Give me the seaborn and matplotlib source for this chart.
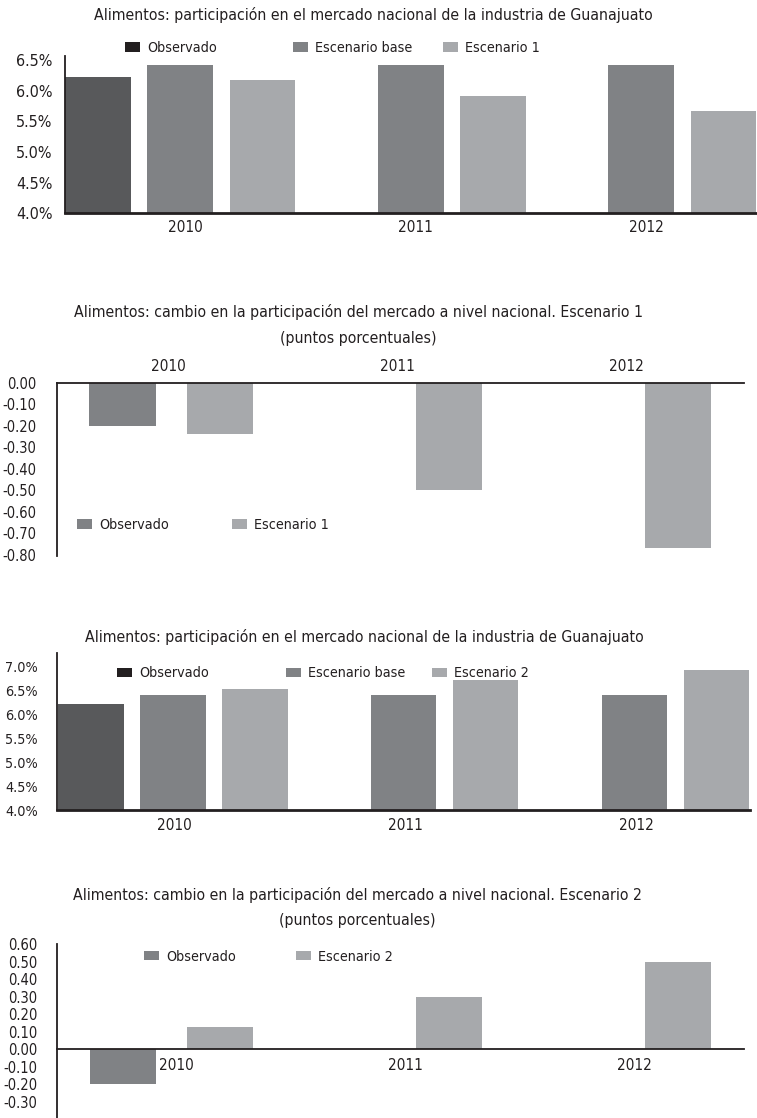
import numpy as np
import pandas as pd
import matplotlib
matplotlib.use('Agg')
import matplotlib.pyplot as plt
import matplotlib.transforms as mtransforms
from matplotlib.patches import Patch
from matplotlib import font_manager
import seaborn as sns

# data (percent / percentage points)
years = ['2010', '2011', '2012']

obs_share_1 = [6.22]                 # Observado only exists for 2010
base_share_1 = [6.42, 6.42, 6.42]
esc1_share = [6.18, 5.92, 5.66]

obs_change_1 = [-0.20]
esc1_change = [-0.24, -0.50, -0.77]

obs_share_2 = [6.22]
base_share_2 = [6.40, 6.40, 6.40]
esc2_share = [6.53, 6.71, 6.91]

obs_change_2 = [-0.20]
esc2_change = [0.13, 0.30, 0.50]

# colours
TXT = '#231f20'
DARK = '#58595b'
MID = '#808285'
LIGHT = '#a7a9ac'

W, H = 757, 1118

sns.set_style('white')
names = {f.name for f in font_manager.fontManager.ttflist}
fam = 'Liberation Sans Narrow' if 'Liberation Sans Narrow' in names else 'DejaVu Sans'
plt.rcParams['font.family'] = [fam, 'DejaVu Sans']
plt.rcParams['font.stretch'] = 'condensed'
plt.rcParams['text.color'] = TXT


def long_df(series):
    rows = []
    for name, vals in series:
        for yr, v in zip(years, vals):
            rows.append((yr, name, v))
    return pd.DataFrame(rows, columns=['year', 'serie', 'value'])


def px_axes(left, right, top, bottom):
    # axes box given in pixel coords of the 757x1118 picture
    return fig.add_axes([left / W, 1 - bottom / H, (right - left) / W, (bottom - top) / H])


def bars(ax, df, hue_order, colors, width, gap):
    sns.barplot(data=df, x='year', y='value', hue='serie', order=years,
                hue_order=hue_order, palette=colors, width=width, gap=gap,
                saturation=1, errorbar=None, linewidth=0, legend=False, ax=ax)
    ax.set_xlabel('')
    ax.set_ylabel('')
    ax.set_xlim(-0.5, 2.5)
    for s in ['top', 'right', 'bottom', 'left']:
        ax.spines[s].set_visible(False)
    ax.spines['left'].set_visible(True)
    ax.spines['left'].set_color(TXT)
    ax.spines['left'].set_linewidth(1.3)
    ax.tick_params(length=0, colors=TXT)


def shift_xlabels(ax, dx):
    off = mtransforms.ScaledTranslation(dx / 100, 0, fig.dpi_scale_trans)
    for lab in ax.get_xticklabels():
        lab.set_transform(lab.get_transform() + off)


def legend_row(labels, colors, xs, y, fs):
    for lab, col, x in zip(labels, colors, xs):
        fig.legend(handles=[Patch(facecolor=col, edgecolor='none')], labels=[lab],
                   loc='center left', bbox_to_anchor=(x / W, 1 - y / H),
                   frameon=False, fontsize=fs, handlelength=1.05, handleheight=0.65,
                   handletextpad=0.5, borderpad=0, borderaxespad=0)


def title(text, x, y, fs):
    fig.text(x / W, 1 - y / H, text, ha='center', va='center', fontsize=fs, color=TXT)


fig = plt.figure(figsize=(W / 100, H / 100), dpi=100)

TFS = 11.3   # titles
LFS = 10.3   # legends
XFS = 11     # year labels

# ---- Chart 1: share, Escenario 1
df1 = long_df([('Observado', obs_share_1), ('Escenario base', base_share_1),
               ('Escenario 1', esc1_share)])
ax1 = px_axes(65, 756.5, 56, 213.3)
bars(ax1, df1, ['Observado', 'Escenario base', 'Escenario 1'], [DARK, MID, LIGHT], 1.07, 0.2)
ax1.set_ylim(4.0, 6.565)
ax1.set_yticks(np.arange(4.0, 6.51, 0.5))
ax1.set_yticklabels(['%.1f%%' % v for v in np.arange(4.0, 6.51, 0.5)], fontsize=11.5)
ax1.spines['bottom'].set_visible(True)
ax1.spines['bottom'].set_color(TXT)
ax1.spines['bottom'].set_linewidth(2)
ax1.tick_params(axis='y', pad=9)
ax1.tick_params(axis='x', labelsize=XFS, pad=5)
shift_xlabels(ax1, 5)
title('Alimentos: participación en el mercado nacional de la industria de Guanajuato', 373, 15, TFS)
legend_row(['Observado', 'Escenario base', 'Escenario 1'], [TXT, MID, LIGHT],
           [125, 293, 443], 48, LFS)

# ---- Chart 2: change, Escenario 1
df2 = long_df([('Observado', obs_change_1), ('Escenario 1', esc1_change)])
ax2 = px_axes(56.7, 744, 382.7, 555.7)
bars(ax2, df2, ['Observado', 'Escenario 1'], [MID, LIGHT], 0.85, 0.32)
ax2.set_ylim(-0.805, 0)
ax2.set_yticks(np.arange(-0.8, 0.01, 0.1))
ax2.set_yticklabels(['%.2f' % v if abs(v) > 1e-9 else '0.00' for v in np.arange(-0.8, 0.01, 0.1)],
                    fontsize=10.5)
ax2.xaxis.tick_top()
ax2.spines['top'].set_visible(True)
ax2.spines['top'].set_color(TXT)
ax2.spines['top'].set_linewidth(1.3)
ax2.tick_params(axis='y', pad=14.5)
ax2.tick_params(axis='x', labelsize=XFS, pad=6)
shift_xlabels(ax2, -3)
title('Alimentos: cambio en la participación del mercado a nivel nacional. Escenario 1', 358, 311.7, TFS)
title('(puntos porcentuales)', 358, 338.3, TFS)
legend_row(['Observado', 'Escenario 1'], [MID, LIGHT], [77, 232], 525, LFS)

# ---- Chart 3: share, Escenario 2
df3 = long_df([('Observado', obs_share_2), ('Escenario base', base_share_2),
               ('Escenario 2', esc2_share)])
ax3 = px_axes(57.3, 750, 652.7, 810)
bars(ax3, df3, ['Observado', 'Escenario base', 'Escenario 2'], [DARK, MID, LIGHT], 1.065, 0.2)
ax3.set_ylim(4.0, 7.28)
ax3.set_yticks(np.arange(4.0, 7.01, 0.5))
ax3.set_yticklabels(['%.1f%%' % v for v in np.arange(4.0, 7.01, 0.5)], fontsize=10.3)
ax3.spines['bottom'].set_visible(True)
ax3.spines['bottom'].set_color(TXT)
ax3.spines['bottom'].set_linewidth(2)
ax3.tick_params(axis='y', pad=14)
ax3.tick_params(axis='x', labelsize=XFS, pad=6)
shift_xlabels(ax3, 2)
title('Alimentos: participación en el mercado nacional de la industria de Guanajuato', 364, 636.7, TFS)
legend_row(['Observado', 'Escenario base', 'Escenario 2'], [TXT, MID, LIGHT],
           [117, 286, 432], 673.3, LFS)

# ---- Chart 4: change, Escenario 2
df4 = long_df([('Observado', obs_change_2), ('Escenario 2', esc2_change)])
ax4 = px_axes(57.3, 744, 944, 1118)
bars(ax4, df4, ['Observado', 'Escenario 2'], [MID, LIGHT], 0.85, 0.32)
ax4.set_ylim(-0.391, 0.60)
ax4.set_yticks(np.arange(-0.3, 0.61, 0.1))
ax4.set_yticklabels(['%.2f' % v if abs(v) > 1e-9 else '0.00' for v in np.arange(-0.3, 0.61, 0.1)],
                    fontsize=10.5)
ax4.spines['bottom'].set_visible(True)
ax4.spines['bottom'].set_position(('data', 0))
ax4.spines['bottom'].set_color(TXT)
ax4.spines['bottom'].set_linewidth(1.3)
ax4.tick_params(axis='y', pad=14.5)
ax4.tick_params(axis='x', labelsize=XFS, pad=6)
shift_xlabels(ax4, 5)
title('Alimentos: cambio en la participación del mercado a nivel nacional. Escenario 2', 357.5, 895, TFS)
title('(puntos porcentuales)', 357.5, 920, TFS)
legend_row(['Observado', 'Escenario 2'], [MID, LIGHT], [144, 296], 956.7, LFS)

fig.savefig('out.png', dpi=100)
